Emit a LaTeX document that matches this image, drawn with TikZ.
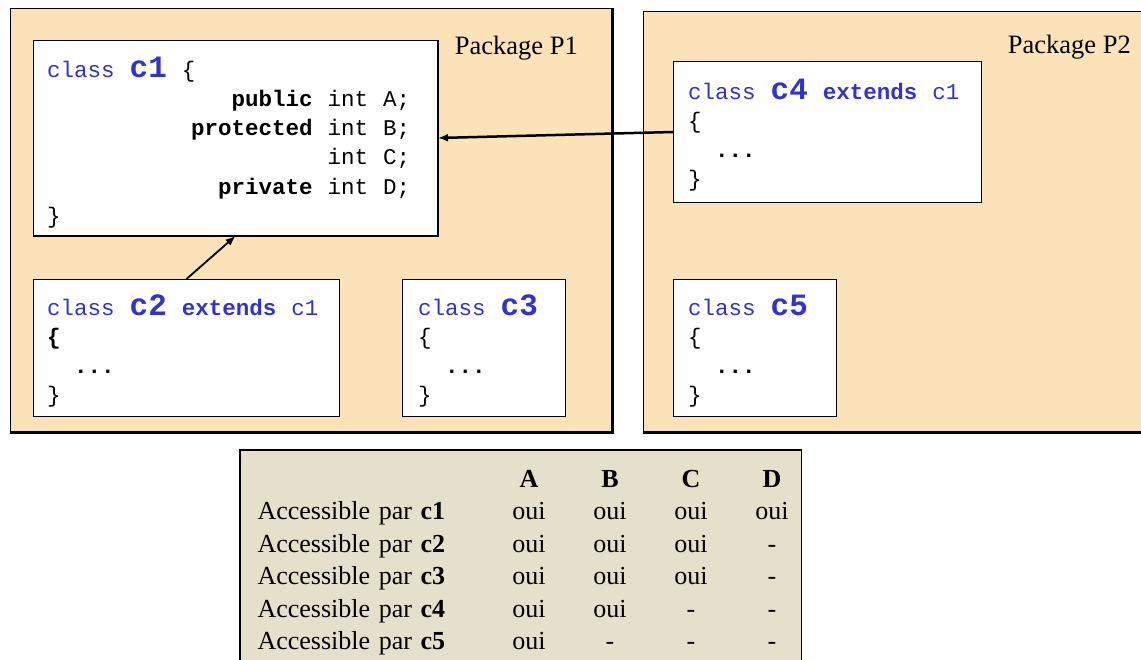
\documentclass[tikz,border=0pt]{standalone}
\usepackage{fontspec}
\setmainfont{Liberation Serif}
\newfontfamily\codemono{Liberation Mono}
\usetikzlibrary{matrix,arrows.meta}
\definecolor{pkgfill}{RGB}{251,226,185}
\definecolor{tabfill}{RGB}{229,224,203}
\definecolor{codeblue}{RGB}{51,51,204}
\newcommand{\codefont}{\codemono\fontsize{22.5}{29.3}\selectfont}
\newcommand{\tabfont}{\fontsize{26}{30}\selectfont}
\newcommand{\kw}[1]{\textcolor{codeblue}{#1}}
\newcommand{\bkw}[1]{\textcolor{codeblue}{\bfseries #1}}
\newcommand{\cname}[1]{\textcolor{codeblue}{\bfseries\fontsize{31}{29.3}\selectfont #1}}
\newcommand{\dotsline}{\phantom{xx}\textbf{...}}
\tikzset{
  package/.style={draw, fill=pkgfill, line width=1.2pt, anchor=north west,
    inner sep=0pt},
  classbox/.style={draw, fill=white, line width=1pt, anchor=north west,
    inner sep=0pt},
  code/.style={anchor=base west, inner sep=0pt, align=left, font=\codefont,
    execute at begin node={\spaceskip=15pt\xspaceskip=15pt\relax}},
  pkglabel/.style={anchor=base east, inner sep=0pt,
    font=\fontsize{26.5}{30}\selectfont},
  inherit/.style={-{Latex[length=10pt,width=8pt]}},
  acctable/.style={
    matrix of nodes,
    row sep=0pt,
    column sep=0pt,
    nodes={inner sep=0pt, text width=81pt, align=center, font=\tabfont},
    text height=23.4pt,
    text depth=9pt,
    column 1/.style={nodes={text width=231pt, align=left}},
    row 1/.style={nodes={font=\tabfont\bfseries}},
    nodes in empty cells
  }
}

\begin{document}
\begin{tikzpicture}[x=1pt, y=-1pt]
  \useasboundingbox (0,0) rectangle (1141,659);

  % The packages
  \node[package, minimum width=601pt, minimum height=423pt] (p1) at (10,8) {};
  \node[package, minimum width=510pt, minimum height=420pt] (p2) at (643,11) {};
  \node[pkglabel] (p1lbl) at (578,54) {Package P1};
  \node[pkglabel] (p2lbl) at (1131,53) {Package P2};

  % The classes
  \node[classbox, minimum width=404pt, minimum height=195pt] (c1) at (33,40) {};
  \node[classbox, minimum width=306pt, minimum height=137pt] (c2) at (33,279) {};
  \node[classbox, minimum width=163pt, minimum height=137pt] (c3) at (402,279) {};
  \node[classbox, minimum width=308pt, minimum height=141pt] (c4) at (673,61) {};
  \node[classbox, minimum width=163pt, minimum height=137pt] (c5) at (673,279) {};

  % shadow edges
  \foreach \bx/\w in {p1/3pt, p2/3pt, c1/2.4pt}
    \draw[line width=\w] (\bx.north east) -- (\bx.south east) -- (\bx.south west);

  % The code
  \node[code, text width=363pt] (c1code) at (47,77) {\kw{class} \cname{c1} \{\\
    \hspace*{\fill}\textbf{public} int A;\\
    \hspace*{\fill}\textbf{protected} int B;\\
    \hspace*{\fill}int C;\\
    \hspace*{\fill}\textbf{private} int D;\\
    \}};
  \node[code, text width=285pt] (c2code) at (47,315)
    {\kw{class} \cname{c2} \bkw{extends} \kw{c1}\\ \textbf{\{}\\ \dotsline\\ \}};
  \node[code, text width=140pt] (c3code) at (418,315)
    {\kw{class} \cname{c3}\\ \{\\ \dotsline\\ \}};
  \node[code, text width=285pt] (c4code) at (688,99)
    {\kw{class} \cname{c4} \bkw{extends} \kw{c1}\\ \{\\ \dotsline\\ \}};
  \node[code, text width=140pt] (c5code) at (688,315)
    {\kw{class} \cname{c5}\\ \{\\ \dotsline\\ \}};

  % Inheritance arrows
  \draw[inherit, line width=2.5pt] (c4.west) -- (c1.east);
  \draw[inherit, line width=1.8pt] (c2.north) -- (c1.south);

  % The access table
  \node[draw, fill=tabfill, line width=1pt, anchor=north west, inner sep=0pt,
    minimum width=561pt, minimum height=215pt] (tabbg) at (240,450) {};
  \draw[line width=2.5pt] (tabbg.south west) -- (tabbg.north west)
    -- (tabbg.north east);
  \matrix (acc) [acctable, anchor=north west] at (254,460.6) {
                                & A   & B   & C   & D   \\
    Accessible par \textbf{c1}  & oui & oui & oui & oui \\
    Accessible par \textbf{c2}  & oui & oui & oui & -   \\
    Accessible par \textbf{c3}  & oui & oui & oui & -   \\
    Accessible par \textbf{c4}  & oui & oui & -   & -   \\
    Accessible par \textbf{c5}  & oui & -   & -   & -   \\
  };
\end{tikzpicture}
\end{document}
